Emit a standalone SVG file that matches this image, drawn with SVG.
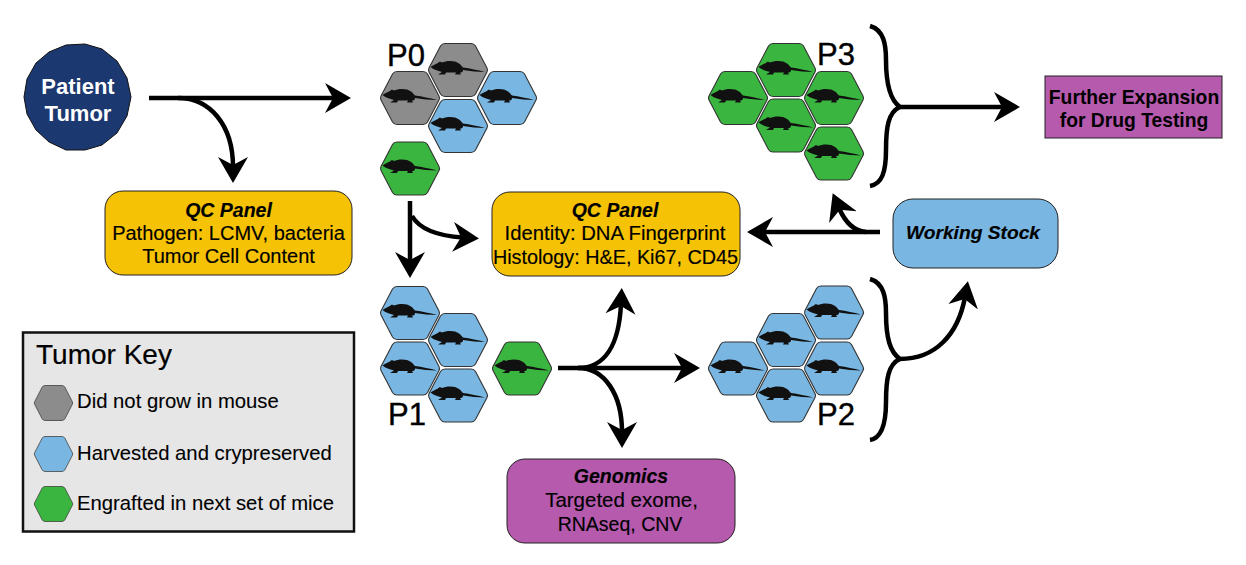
<svg xmlns="http://www.w3.org/2000/svg" width="1246" height="565" viewBox="0 0 1246 565">
<style>
text{font-family:"Liberation Sans",Arial,sans-serif;fill:#000}
.m{font-size:20px;text-anchor:middle;stroke:#000;stroke-width:.15}
.b{font-weight:bold;font-style:italic;font-size:19.5px}
.w{font-size:22px;font-weight:bold;text-anchor:middle;fill:#fff}
.f{font-size:19.3px;font-weight:bold;text-anchor:middle}
.p{font-size:31px;stroke:#000;stroke-width:.4}
.k{font-size:20.3px;stroke:#000;stroke-width:.1}
.box{stroke:#222;stroke-width:1}
.yel{fill:#f6c205}.pur{fill:#b55aad}.blu{fill:#79b6e2}
.c{fill:none;stroke:#000;stroke-width:4.5}
.a{marker-end:url(#ah)}
.hg{fill:#8c8c8c}.hb{fill:#79b6e2}.hr{fill:#3ab53f}
.hx{stroke:#333;stroke-width:1.1}
</style>
<defs>
<marker id="ah" markerUnits="userSpaceOnUse" markerWidth="34" markerHeight="34" refX="10" refY="17" orient="auto" viewBox="0 0 34 34"><path d="M0,2 L26,17 L0,32 L8,17Z" fill="#000"/></marker>
<path id="hex" d="M-13,-26.5H13Q16,-26.5 17.5,-24L29,-2Q30,0 29,2L17.5,24Q16,26.5 13,26.5H-13Q-16,26.5 -17.5,24L-29,2Q-30,0 -29,-2L-17.5,-24Q-16,-26.5 -13,-26.5Z"/>
<path id="mouse" fill="#111" d="M-27.5,-3C-25,-5 -22,-6 -20,-7C-19,-8.5 -17,-8.5 -16,-7.5C-12,-9.5 -3,-10 1,-6.5C3,-5 4,-3.5 5,-2.5C12,-1.5 20,0 27,2C20,2 12,1 5,0C5,2 4,2.5 2,2.5L3,4.5H-3L-2,2.5H-12L-13,4.5H-20L-16,2C-19,1 -24,0 -27.5,-3Z"/>
</defs>
<g id="connectors">
<path class="c a" d="M149,98H335"/>
<path class="c a" d="M178,98C210,98 233,125 233,167"/>
<path class="c a" d="M410,201V262"/>
<path class="c a" d="M412,216C420,230 440,236 463,237.5"/>
<path class="c a" d="M558,368H684"/>
<path class="c a" d="M578,368C605,368 619,345 621,304"/>
<path class="c a" d="M578,368C605,368 622,395 622,432"/>
<path class="c a" d="M880,232H763"/>
<path class="c a" d="M866,232C853,231 845,222 839,208"/>
<path class="c" d="M870,26C884,30 886,45 886,60C886,85 890,100 900,107C888,112 886,128 886,150C886,172 882,184 870,186"/>
<path class="c a" d="M900,107H1004"/>
<path class="c" d="M870,279C884,283 886,298 886,313C886,338 890,352 900,359C888,364 886,380 886,402C886,424 882,438 870,440"/>
<path class="c a" d="M900,359C935,359 958,335 965,297"/>
</g>
<g id="patient-tumor"><polygon fill="#1c3870" stroke="#111" stroke-width="1" points="131,97 127,116 117,133 102,145 85,150 66,150 49,142 36,130 27,114 24,97 27,79 36,63 49,52 66,45 85,44 102,49 117,61 127,78"/><text x="78" y="94" class="w">Patient</text><text x="78" y="121" class="w">Tumor</text></g>
<g id="qc-panel-1"><rect class="box yel" x="105" y="191" width="247" height="84" rx="18"/><text x="228.5" y="217" class="m b">QC Panel</text><text x="228.5" y="240" class="m">Pathogen: LCMV, bacteria</text><text x="228.5" y="263" class="m">Tumor Cell Content</text></g>
<g id="qc-panel-2"><rect class="box yel" x="492" y="192" width="248" height="84" rx="18"/><text x="615" y="217" class="m b">QC Panel</text><text x="615" y="240" class="m" style="font-size:20.3px">Identity: DNA Fingerprint</text><text x="615.5" y="264" class="m" style="font-size:19.8px">Histology: H&amp;E, Ki67, CD45</text></g>
<g id="working-stock"><rect class="box blu" x="893" y="199" width="165" height="69" rx="20"/><text x="973" y="239" class="m b" style="font-size:19.2px">Working Stock</text></g>
<g id="further-expansion"><rect class="box pur" x="1045" y="76" width="177" height="62"/><text x="1134" y="104" class="f">Further Expansion</text><text x="1134" y="127" class="f">for Drug Testing</text></g>
<g id="genomics"><rect class="box pur" x="507" y="459" width="228" height="84" rx="18"/><text x="621" y="483" class="m b">Genomics</text><text x="621.5" y="507" class="m" style="font-size:20.5px">Targeted exome,</text><text x="620" y="531" class="m" style="font-size:19.5px">RNAseq, CNV</text></g>
<g id="p0"><text x="387" y="66" class="p">P0</text>
<g transform="translate(410,98)"><use href="#hex" class="hx hg"/><use href="#mouse"/></g>
<g transform="translate(458,70)"><use href="#hex" class="hx hg"/><use href="#mouse"/></g>
<g transform="translate(507,98)"><use href="#hex" class="hx hb"/><use href="#mouse"/></g>
<g transform="translate(458,126)"><use href="#hex" class="hx hb"/><use href="#mouse"/></g>
<g transform="translate(410,168.5)"><use href="#hex" class="hx hr"/><use href="#mouse"/></g></g>
<g id="p1"><text x="388" y="425" class="p">P1</text>
<g transform="translate(410,313)"><use href="#hex" class="hx hb"/><use href="#mouse"/></g>
<g transform="translate(458,340)"><use href="#hex" class="hx hb"/><use href="#mouse"/></g>
<g transform="translate(410,368.5)"><use href="#hex" class="hx hb"/><use href="#mouse"/></g>
<g transform="translate(458,395.5)"><use href="#hex" class="hx hb"/><use href="#mouse"/></g>
<g transform="translate(522,368.5)"><use href="#hex" class="hx hr"/><use href="#mouse"/></g></g>
<g id="p2"><text x="817" y="425" class="p">P2</text>
<g transform="translate(738,368.5)"><use href="#hex" class="hx hb"/><use href="#mouse"/></g>
<g transform="translate(786,340)"><use href="#hex" class="hx hb"/><use href="#mouse"/></g>
<g transform="translate(834,312.5)"><use href="#hex" class="hx hb"/><use href="#mouse"/></g>
<g transform="translate(834,368.5)"><use href="#hex" class="hx hb"/><use href="#mouse"/></g>
<g transform="translate(786,395.5)"><use href="#hex" class="hx hb"/><use href="#mouse"/></g></g>
<g id="p3"><text x="817" y="65" class="p">P3</text>
<g transform="translate(738,98)"><use href="#hex" class="hx hr"/><use href="#mouse"/></g>
<g transform="translate(786,70)"><use href="#hex" class="hx hr"/><use href="#mouse"/></g>
<g transform="translate(834,98)"><use href="#hex" class="hx hr"/><use href="#mouse"/></g>
<g transform="translate(786,125.5)"><use href="#hex" class="hx hr"/><use href="#mouse"/></g>
<g transform="translate(834,153.5)"><use href="#hex" class="hx hr"/><use href="#mouse"/></g></g>
<g id="tumor-key"><rect x="23" y="332.5" width="331" height="199" fill="#e6e6e6" stroke="#111" stroke-width="2.5"/><text x="36" y="364" font-size="28" stroke="#000" stroke-width=".2">Tumor Key</text>
<use href="#hex" transform="translate(53.5,403) scale(.65,.66)" class="hx hg"/><text x="77" y="408" class="k">Did not grow in mouse</text>
<use href="#hex" transform="translate(53.5,454) scale(.65,.66)" class="hx hb"/><text x="77" y="460" class="k">Harvested and crypreserved</text>
<use href="#hex" transform="translate(53.5,504) scale(.65,.66)" class="hx hr"/><text x="77" y="510" class="k">Engrafted in next set of mice</text></g>
</svg>
